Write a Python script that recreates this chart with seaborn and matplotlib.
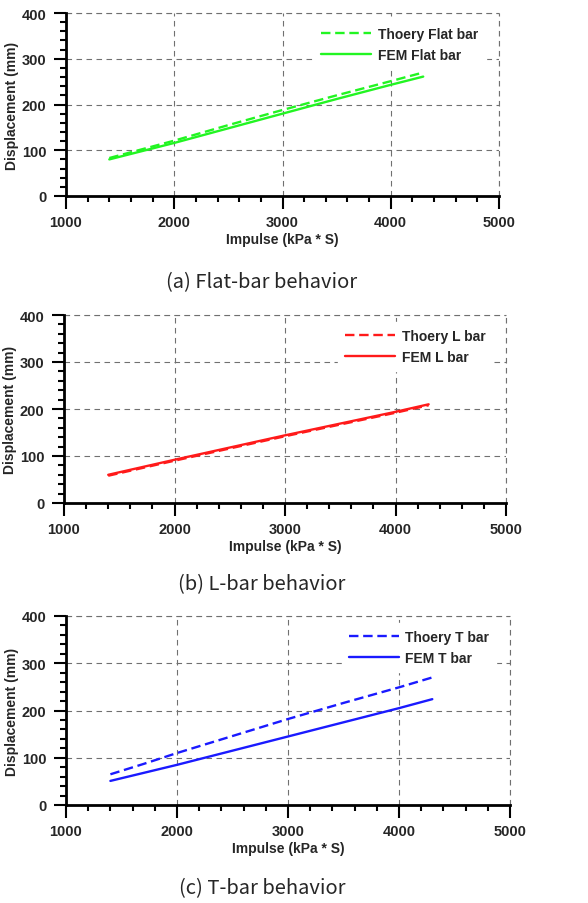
import seaborn as sns
import matplotlib.pyplot as plt
from matplotlib.ticker import MultipleLocator
import pandas as pd

sns.set_style("white")
plt.rcParams["font.family"] = ["Liberation Sans", "DejaVu Sans"]

impulse = [1400, 1700, 2000, 2500, 3000, 3500, 4000, 4300]

flat_theory = [83, 102, 121, 155, 188, 220, 251, 270]
flat_fem = [80, 98, 116, 148, 180, 212, 243, 261]
l_theory = [58, 74, 90, 116, 142, 167, 192, 208]
l_fem = [60, 76, 92, 118, 144, 169, 194, 210]
t_theory = [65, 87, 110, 146, 182, 216, 249, 270]
t_fem = [51, 68, 85, 115, 145, 175, 205, 224]

panels = [
    ("Flat bar", flat_theory, flat_fem, "#22f522", "(a) Flat-bar behavior"),
    ("L bar", l_theory, l_fem, "#ff1a1a", "(b) L-bar behavior"),
    ("T bar", t_theory, t_fem, "#1a1aff", "(c) T-bar behavior"),
]

W, H = 588, 904
fig = plt.figure(figsize=(W / 100, H / 100), dpi=100)

# axes boxes in pixels: left, right, top, bottom
boxes = [(66, 499, 14, 197), (64, 506, 316, 504), (66, 510, 617, 806)]
caption_y = [283, 585, 889]

for (name, theory, fem, color, caption), (l, r, t, b), cy in zip(panels, boxes, caption_y):
    ax = fig.add_axes([l / W, 1 - b / H, (r - l) / W, (b - t) / H])
    df = pd.DataFrame({"impulse": impulse, "theory": theory, "fem": fem})
    sns.lineplot(data=df, x="impulse", y="theory", color=color, lw=1.7,
                 ax=ax, label=f"Thoery {name}")
    ax.lines[-1].set_dashes((4, 2))
    sns.lineplot(data=df, x="impulse", y="fem", color=color, lw=1.7,
                 ax=ax, label=f"FEM {name}")

    ax.set_xlim(1000, 5000)
    ax.set_ylim(0, 400)
    ax.xaxis.set_major_locator(MultipleLocator(1000))
    ax.xaxis.set_minor_locator(MultipleLocator(200))
    ax.yaxis.set_major_locator(MultipleLocator(100))
    ax.yaxis.set_minor_locator(MultipleLocator(20))
    ax.tick_params(which="major", direction="out", length=9, width=1.5,
                   labelsize=10.5, pad=5, color="black")
    ax.tick_params(which="minor", direction="out", length=4.5, width=1.5,
                   color="black")
    ax.tick_params(bottom=True, left=True, which="both")
    for lab in ax.get_xticklabels() + ax.get_yticklabels():
        lab.set_fontweight("bold")

    ax.grid(True, which="major", color="#707070", lw=0.8, ls=(0, (5, 4)))
    ax.set_axisbelow(True)
    for side in ["top", "right"]:
        ax.spines[side].set_visible(False)
    for side in ["left", "bottom"]:
        ax.spines[side].set_linewidth(2)
        ax.spines[side].set_color("black")
    # dashed lines at the upper limits
    ax.axhline(400, color="#707070", lw=0.8, ls=(0, (5, 4)), clip_on=False)
    ax.axvline(5000, color="#707070", lw=0.8, ls=(0, (5, 4)), clip_on=False)

    ax.set_xlabel("Impulse (kPa * S)", fontsize=10, fontweight="bold", labelpad=2)
    ax.set_ylabel("Displacement (mm)", fontsize=10, fontweight="bold", labelpad=2)

    leg = ax.legend(loc="upper right", bbox_to_anchor=(0.985, 1.0), frameon=True,
                    fontsize=10, handlelength=3.6, handletextpad=0.5,
                    labelspacing=0.5, borderpad=0.5, fancybox=False)
    leg.get_frame().set_edgecolor("white")
    leg.get_frame().set_facecolor("white")
    leg.get_frame().set_alpha(1)
    for txt in leg.get_texts():
        txt.set_fontweight("bold")

    fig.text(262 / W, 1 - cy / H, caption, ha="center", va="center",
             fontsize=14.5, family=["Noto Sans CJK KR", "DejaVu Sans"],
             fontweight="light")

fig.savefig("out.png", dpi=100)
